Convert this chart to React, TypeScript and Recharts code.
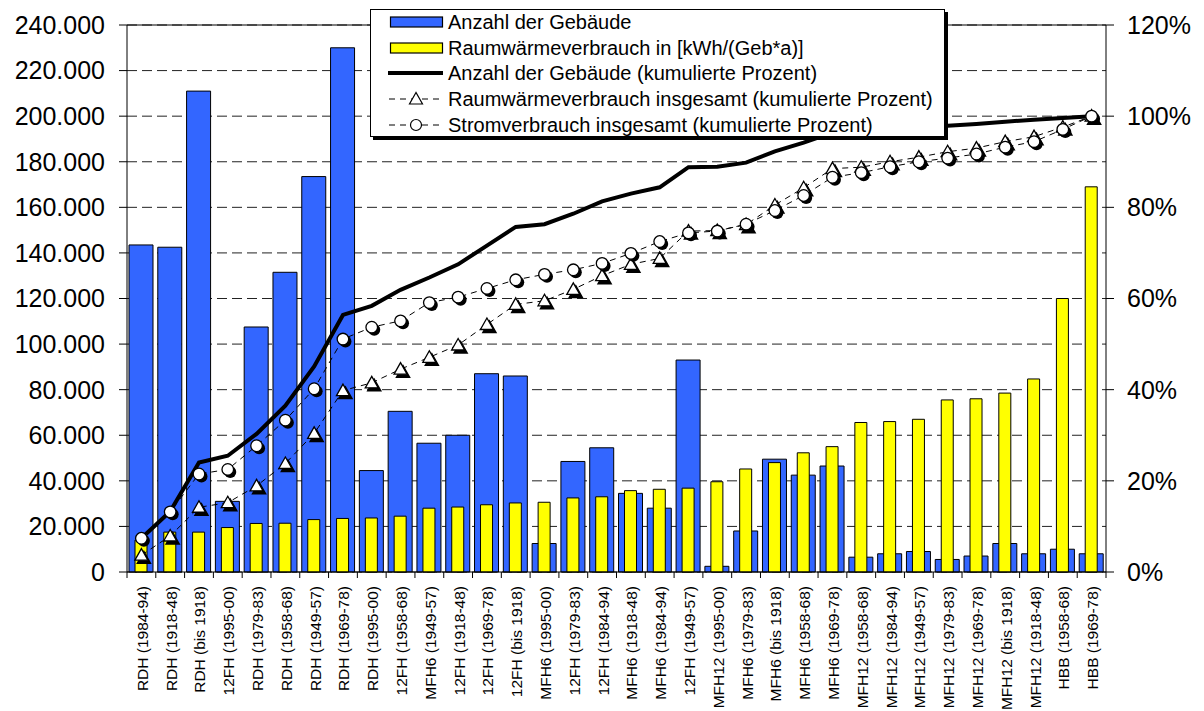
import React from "react";
import {
  ComposedChart,
  Bar,
  Line,
  XAxis,
  YAxis,
  CartesianGrid,
  ReferenceLine,
} from "recharts";

const categories = [
  "RDH (1984-94)", "RDH (1918-48)", "RDH (bis 1918)", "12FH (1995-00)", "RDH (1979-83)",
  "RDH (1958-68)", "RDH (1949-57)", "RDH (1969-78)", "RDH (1995-00)", "12FH (1958-68)",
  "MFH6 (1949-57)", "12FH (1918-48)", "12FH (1969-78)", "12FH (bis 1918)", "MFH6 (1995-00)",
  "12FH (1979-83)", "12FH (1984-94)", "MFH6 (1918-48)", "MFH6 (1984-94)", "12FH (1949-57)",
  "MFH12 (1995-00)", "MFH6 (1979-83)", "MFH6 (bis 1918)", "MFH6 (1958-68)", "MFH6 (1969-78)",
  "MFH12 (1958-68)", "MFH12 (1984-94)", "MFH12 (1949-57)", "MFH12 (1979-83)", "MFH12 (1969-78)",
  "MFH12 (bis 1918)", "MFH12 (1918-48)", "HBB (1958-68)", "HBB (1969-78)",
];

const buildings = [
  143500, 142500, 211000, 31000, 107500, 131500, 173500, 230000, 44500, 70500,
  56500, 60000, 87000, 86000, 12500, 48500, 54500, 34500, 28000, 93000,
  2500, 18000, 49500, 42500, 46500, 6500, 8000, 9000, 5500, 7000,
  12500, 8000, 10000, 8000,
];

const heatPerBuilding = [
  14000, 17500, 17500, 19500, 21300, 21400, 23000, 23500, 23700, 24500,
  28000, 28500, 29500, 30300, 30600, 32500, 33000, 35700, 36300, 36800,
  39600, 45200, 48000, 52300, 55000, 65600, 66000, 67000, 75500, 76000,
  78500, 84700, 120000, 169000,
];

const cumBuildings = [
  7.4, 13.3, 24.0, 25.5, 30.3, 36.5, 45.1, 56.4, 58.4, 61.9,
  64.6, 67.5, 71.6, 75.7, 76.3, 78.6, 81.3, 83.0, 84.4, 88.8,
  88.9, 89.8, 92.3, 94.2, 96.4, 96.8, 97.2, 97.6, 97.9, 98.3,
  98.8, 99.2, 99.6, 100,
];

const cumHeat = [
  3.7, 7.9, 14.2, 15.2, 18.9, 23.8, 30.4, 39.8, 41.5, 44.5,
  47.1, 49.8, 54.3, 58.7, 59.5, 62.0, 65.0, 67.5, 68.8, 74.8,
  74.9, 76.2, 80.5, 84.3, 88.5, 88.8, 90.0, 91.0, 92.2, 93.0,
  94.4, 95.5, 97.6, 100,
];

const cumPower = [
  7.4, 13.2, 21.5, 22.5, 27.7, 33.3, 40.2, 51.1, 53.7, 55.1,
  59.1, 60.3, 62.2, 64.1, 65.3, 66.3, 67.7, 69.9, 72.5, 74.4,
  74.8, 76.3, 79.3, 82.6, 86.6, 87.6, 88.9, 90.0, 90.8, 91.7,
  93.2, 94.4, 97.1, 100,
];

const leftTicks = [0, 20000, 40000, 60000, 80000, 100000, 120000, 140000, 160000, 180000, 200000, 220000, 240000];
const rightTicks = [0, 20, 40, 60, 80, 100, 120];

const legendLabels = [
  "Anzahl der Gebäude",
  "Raumwärmeverbrauch in [kWh/(Geb*a)]",
  "Anzahl der Gebäude (kumulierte Prozent)",
  "Raumwärmeverbrauch insgesamt (kumulierte Prozent)",
  "Stromverbrauch insgesamt (kumulierte Prozent)",
];

const data = categories.map((name, i) => ({
  name,
  buildings: buildings[i],
  heat: heatPerBuilding[i],
  cumB: cumBuildings[i],
  cumH: cumHeat[i],
  cumP: cumPower[i],
}));

const FONT = "'Liberation Sans', Arial, Helvetica, sans-serif";
const W = 1204;
const H = 711;
const LEFT_W = 127;
const RIGHT_W = 98;
const TOP = 25;
const XAXIS_H = 139;
const PLOT_W = W - LEFT_W - RIGHT_W;
const BLUE = "#3366FF";
const YELLOW = "#FFFF00";

const fmtThousands = (v: number) =>
  String(v).replace(/\B(?=(\d{3})+(?!\d))/g, ".");

const XTick = (props: any) => {
  const { x, y, payload, index } = props;
  const band = PLOT_W / categories.length;
  const last = index === categories.length - 1;
  return (
    <g>
      <line x1={x - band / 2} x2={x - band / 2} y1={y} y2={y + 6} stroke="#000" strokeWidth={1} />
      {last && (
        <line x1={x + band / 2} x2={x + band / 2} y1={y} y2={y + 6} stroke="#000" strokeWidth={1} />
      )}
      <text
        transform={`translate(${x + 1},${y + 14}) rotate(-90)`}
        textAnchor="end"
        dominantBaseline="central"
        fontSize={15.5}
        fontFamily={FONT}
        fill="#000"
      >
        {payload.value}
      </text>
    </g>
  );
};

const triPoints = (cx: number, cy: number) =>
  `${cx},${cy - 6.5} ${cx - 6.5},${cy + 5} ${cx + 6.5},${cy + 5}`;

const TriangleMark = ({ cx, cy }: { cx: number; cy: number }) => (
  <g>
    <polygon points={triPoints(cx + 2.5, cy + 3)} fill="#000" stroke="#000" strokeWidth={1.5} />
    <polygon points={triPoints(cx, cy)} fill="#fff" stroke="#000" strokeWidth={1.3} />
  </g>
);

const CircleMark = ({ cx, cy }: { cx: number; cy: number }) => (
  <g>
    <circle cx={cx + 2.5} cy={cy + 2.5} r={6} fill="#000" />
    <circle cx={cx} cy={cy} r={5.8} fill="#fff" stroke="#000" strokeWidth={1.3} />
  </g>
);

const renderTri = (p: any) => {
  if (p.cx == null || p.cy == null) return <g key={`t-${p.index}`} />;
  return <TriangleMark key={`t-${p.index}`} cx={p.cx} cy={p.cy} />;
};

const renderCirc = (p: any) => {
  if (p.cx == null || p.cy == null) return <g key={`c-${p.index}`} />;
  return <CircleMark key={`c-${p.index}`} cx={p.cx} cy={p.cy} />;
};

const LegendIcon = ({ kind }: { kind: number }) => {
  const w = 58;
  const h = 26;
  const cy = h / 2;
  let content: React.ReactNode = null;
  if (kind === 0 || kind === 1) {
    content = (
      <rect x={3.5} y={cy - 5} width={52} height={10} fill={kind === 0 ? BLUE : YELLOW} stroke="#000" strokeWidth={1.2} />
    );
  } else if (kind === 2) {
    content = <line x1={1} x2={56} y1={cy} y2={cy} stroke="#000" strokeWidth={4} />;
  } else {
    content = (
      <g>
        <line x1={2} x2={56} y1={cy} y2={cy} stroke="#000" strokeWidth={1} strokeDasharray="6 5" />
        {kind === 3 ? (
          <polygon points={triPoints(29, cy)} fill="#fff" stroke="#000" strokeWidth={1.2} />
        ) : (
          <circle cx={29} cy={cy} r={5.5} fill="#fff" stroke="#000" strokeWidth={1.2} />
        )}
      </g>
    );
  }
  return (
    <svg width={w} height={h} style={{ position: "absolute", left: 16, top: 0 }}>
      {content}
    </svg>
  );
};

const LegendBox = () => {
  const rowCenters = [13, 39, 64, 90, 116];
  return (
    <div
      style={{
        position: "absolute",
        left: 370,
        top: 9,
        width: 575,
        height: 128,
        boxSizing: "border-box",
        border: "1px solid #000",
        background: "#fff",
        boxShadow: "3px 3px 0 #000",
        fontFamily: FONT,
        fontSize: 20,
        color: "#000",
      }}
    >
      {legendLabels.map((label, i) => (
        <div
          key={label}
          style={{
            position: "absolute",
            left: 0,
            top: rowCenters[i] - 13 - 1,
            height: 26,
            width: "100%",
          }}
        >
          <LegendIcon kind={i} />
          <span
            style={{
              position: "absolute",
              left: 77,
              top: 0,
              lineHeight: "26px",
              whiteSpace: "nowrap",
            }}
          >
            {label}
          </span>
        </div>
      ))}
    </div>
  );
};

export default function App() {
  return (
    <div style={{ position: "absolute", left: 0, top: 0, width: W, height: H, background: "#fff" }}>
      <ComposedChart
        width={W}
        height={H}
        data={data}
        margin={{ top: TOP, right: 0, bottom: 0, left: 0 }}
      >
        <CartesianGrid
          vertical={false}
          xAxisId="a"
          yAxisId="left"
          stroke="#222"
          strokeDasharray="10 5"
        />
        <XAxis
          xAxisId="a"
          dataKey="name"
          height={XAXIS_H}
          interval={0}
          tickLine={false}
          tickSize={0}
          tickMargin={0}
          axisLine={{ stroke: "#000", strokeWidth: 1 }}
          tick={<XTick />}
        />
        <XAxis xAxisId="b" dataKey="name" hide />
        <YAxis
          yAxisId="left"
          width={LEFT_W}
          domain={[0, 240000]}
          ticks={leftTicks}
          interval={0}
          tickFormatter={fmtThousands}
          tickSize={8}
          tickMargin={14}
          axisLine={{ stroke: "#000", strokeWidth: 1 }}
          tickLine={{ stroke: "#000" }}
          tick={{ fontSize: 25, fill: "#000", fontFamily: FONT }}
        />
        <YAxis
          yAxisId="right"
          orientation="right"
          width={RIGHT_W}
          domain={[0, 120]}
          ticks={rightTicks}
          interval={0}
          tickFormatter={(v: number) => `${v}%`}
          tickSize={8}
          tickMargin={13}
          axisLine={{ stroke: "#000", strokeWidth: 1 }}
          tickLine={{ stroke: "#000" }}
          tick={{ fontSize: 25, fill: "#000", fontFamily: FONT }}
        />
        <Bar
          xAxisId="a"
          yAxisId="left"
          dataKey="buildings"
          name={legendLabels[0]}
          barSize={24}
          fill={BLUE}
          stroke="#000"
          strokeWidth={1}
          isAnimationActive={false}
        />
        <Bar
          xAxisId="b"
          yAxisId="left"
          dataKey="heat"
          name={legendLabels[1]}
          barSize={12}
          fill={YELLOW}
          stroke="#000"
          strokeWidth={1}
          isAnimationActive={false}
        />
        <ReferenceLine xAxisId="a" yAxisId="left" y={240000} stroke="#000" strokeWidth={1} />
        <Line
          xAxisId="a"
          yAxisId="right"
          type="linear"
          dataKey="cumB"
          name={legendLabels[2]}
          stroke="#000"
          strokeWidth={4}
          dot={false}
          isAnimationActive={false}
        />
        <Line
          xAxisId="a"
          yAxisId="right"
          type="linear"
          dataKey="cumH"
          name={legendLabels[3]}
          stroke="#000"
          strokeWidth={1}
          strokeDasharray="6 5"
          dot={renderTri}
          isAnimationActive={false}
        />
        <Line
          xAxisId="a"
          yAxisId="right"
          type="linear"
          dataKey="cumP"
          name={legendLabels[4]}
          stroke="#000"
          strokeWidth={1}
          strokeDasharray="6 5"
          dot={renderCirc}
          isAnimationActive={false}
        />
      </ComposedChart>
      <LegendBox />
    </div>
  );
}
